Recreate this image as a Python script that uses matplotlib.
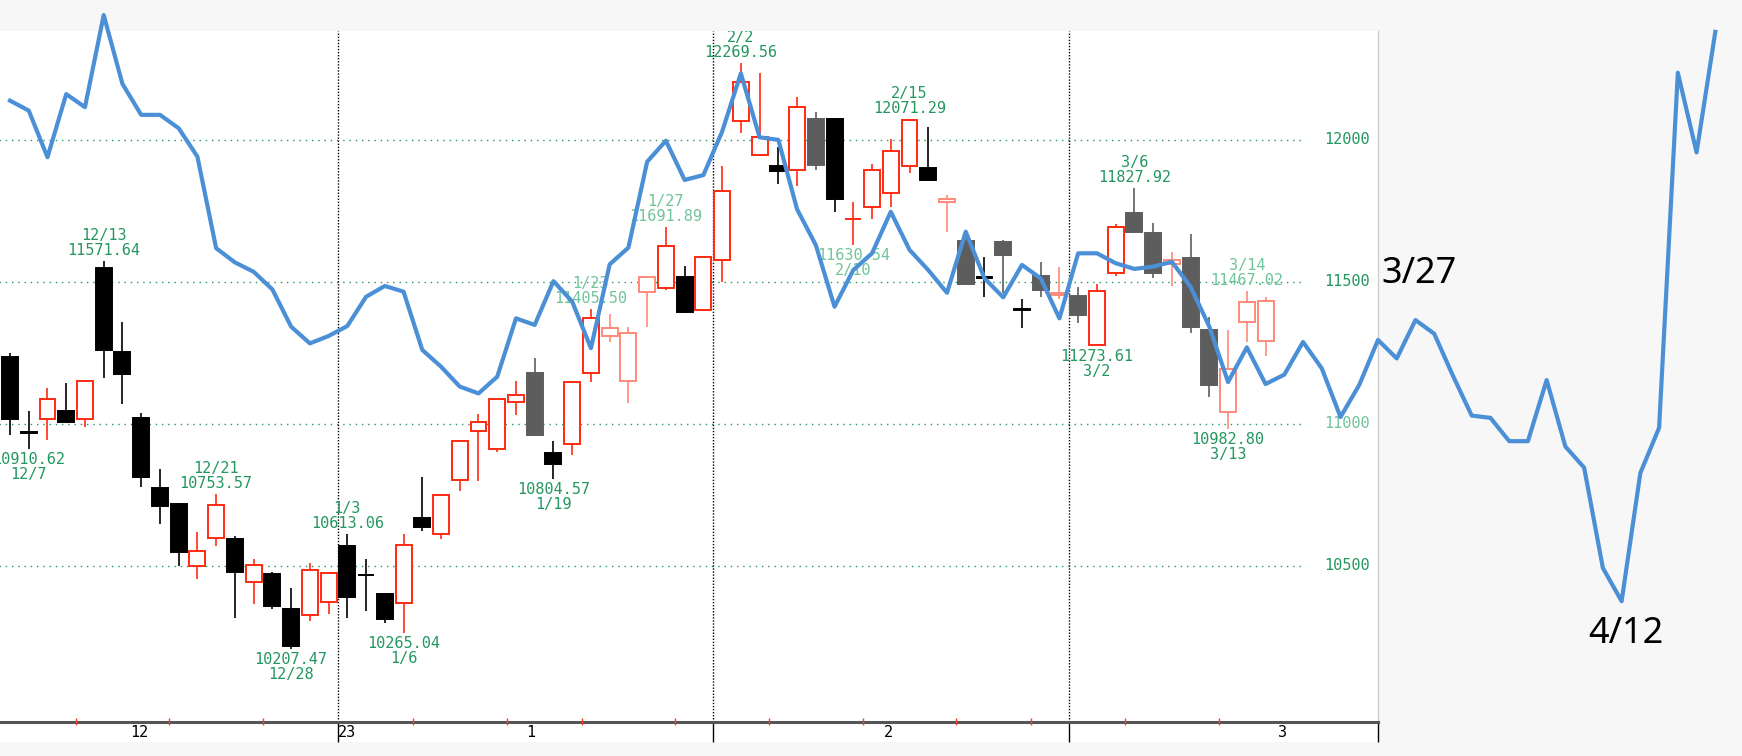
import matplotlib.pyplot as plt
from matplotlib.patches import Rectangle

# trading days shown as candles
dates = ["12/6", "12/7", "12/8", "12/9", "12/12", "12/13", "12/14", "12/15", "12/16", "12/19",
         "12/20", "12/21", "12/22", "12/23", "12/27", "12/28", "12/29", "12/30",
         "1/3", "1/4", "1/5", "1/6", "1/9", "1/10", "1/11", "1/12", "1/13", "1/17", "1/18", "1/19",
         "1/20", "1/23", "1/24", "1/25", "1/26", "1/27", "1/30", "1/31",
         "2/1", "2/2", "2/3", "2/6", "2/7", "2/8", "2/9", "2/10", "2/13", "2/14", "2/15", "2/16",
         "2/17", "2/21", "2/22", "2/23", "2/24", "2/27", "2/28",
         "3/1", "3/2", "3/3", "3/6", "3/7", "3/8", "3/9", "3/10", "3/13", "3/14", "3/15"]

opens = [11236, 10970, 11017, 11046, 11017, 11547, 11252, 11019, 10773, 10717,
         10500, 10599, 10594, 10444, 10470, 10347, 10327, 10374,
         10570, 10469, 10400, 10371, 10668, 10612, 10802, 10975, 10911, 11076, 11178, 10896,
         10929, 11178, 11309, 11151, 11463, 11477, 11515, 11400,
         11576, 12065, 11946, 11908, 11893, 12071, 12071, 11719, 11764, 11811, 11907, 11899,
         11781, 11643, 11516, 11641, 11405, 11520, 11453,
         11451, 11277, 11530, 11741, 11673, 11564, 11582, 11330, 11043, 11357, 11292]
highs = [11248, 11046, 11125, 11143, 11151, 11571.64, 11357, 11037, 10840, 10720,
         10618, 10753.57, 10605, 10523, 10477, 10421, 10509, 10477,
         10613.06, 10523, 10404, 10611, 10814, 10750, 10940, 11033, 11090, 11152, 11230, 10941,
         11148, 11405.50, 11385, 11340, 11520, 11691.89, 11556, 11590,
         11908, 12269.56, 12235, 11975, 12151, 12097, 12075, 11781, 11913, 12001, 12071.29, 12045,
         11805, 11661, 11588, 11645, 11438, 11570, 11551,
         11480, 11492, 11703, 11827.92, 11708, 11603, 11669, 11377, 11330, 11467.02, 11446]
lows = [10961, 10910.62, 10943, 11005, 10990, 11162, 11070, 10779, 10647, 10501,
        10453, 10571, 10316, 10365, 10347, 10207.47, 10307, 10330,
        10316, 10342, 10300, 10265.04, 10624, 10594, 10765, 10800, 10902, 11031, 10957, 10804.57,
        10890, 11148, 11287, 11074, 11342, 11471, 11391, 11400,
        11500, 12024, 11946, 11844, 11837, 11893, 11746, 11630.54, 11721, 11764, 11881, 11855,
        11674, 11490, 11447, 11460, 11338, 11447, 11440,
        11354, 11273.61, 11520, 11672, 11513, 11485, 11319, 11094, 10982.80, 11288, 11238]
closes = [11017, 10968, 11088, 11007, 11150, 11260, 11175, 10814, 10711, 10550,
          10552, 10714, 10480, 10503, 10360, 10219, 10486, 10474,
          10392, 10467, 10312, 10574, 10638, 10749, 10939, 11005, 11086, 11101, 10961, 10859,
          11146, 11371, 11338, 11318, 11515, 11626, 11394, 11586,
          11819, 12202, 12008, 11890, 12114, 11911, 11791, 11722, 11893, 11961, 12069, 11858,
          11790, 11492, 11514, 11594, 11401, 11471, 11459,
          11383, 11467, 11691, 11675, 11531, 11575, 11341, 11138, 11193, 11428, 11432]

gray_idx = [28, 43, 51, 53, 55, 57, 60, 61, 63, 64]
faded_idx = [32, 33, 34, 50, 56, 62, 65, 66, 67]

# high / low call-outs (candle index)
high_marks = [5, 11, 18, 31, 35, 39, 48, 60, 66]
low_marks = [1, 15, 21, 29, 45, 58, 65]
faded_marks = [31, 35, 45, 66]

# blue overlay line, one point per trading day
overlay = [12137, 12102, 11938, 12160, 12114, 12438, 12196, 12087, 12087, 12040,
           11940, 11618, 11568, 11535, 11473, 11342, 11283, 11309, 11344, 11447,
           11485, 11465, 11260, 11201, 11131, 11107, 11166, 11371, 11348, 11502,
           11430, 11266, 11561, 11620, 11922, 11996, 11858, 11875, 12028, 12233,
           12008, 11999, 11755, 11629, 11412, 11541, 11600, 11746, 11612, 11541,
           11461, 11676, 11512, 11445, 11559, 11512, 11371, 11600, 11600, 11565,
           11545, 11553, 11570, 11482, 11342, 11147, 11269, 11140, 11173, 11288,
           11195, 11024, 11137, 11295, 11230, 11365, 11317, 11169, 11029, 11021,
           10939, 10939, 11154, 10920, 10846, 10493, 10376, 10827, 10986, 12235,
           11955, 12379]
overlay_labels = {75: "3/27", 86: "4/12"}

yticks = [10500, 11000, 11500, 12000]
month_breaks = [17.5, 37.5, 56.5]
week_breaks = [3.5, 8.5, 13.5, 21.5, 26.5, 30.5, 35.5, 40.5, 45.5, 50.5, 54.5, 59.5, 64.5]
month_labels = ["12", "23", "1", "2", "3"]
month_label_pos = [6.9, 18.0, 27.8, 46.9, 67.9]

green = "#23975f"
green_light = "#6fc49a"
mono = "DejaVu Sans Mono"

fig = plt.figure(figsize=(17.42, 7.56), dpi=100, facecolor="#f7f7f7")
fig.patches.append(Rectangle((0, 14 / 756), 1378 / 1742, 20 / 756, transform=fig.transFigure,
                             facecolor="white", edgecolor="none", zorder=-1))
ax = fig.add_axes([0, 34 / 756, 1378 / 1742, 691 / 756])
ax.set_xlim(-0.534, 73.0)
ax.set_ylim(9951, 12382)

# grid
ax.hlines(yticks, -0.6, 69.1, colors=green, linestyles=(0, (1, 3.5)), linewidth=1, zorder=1)
for m in month_breaks:
    ax.axvline(m, color="black", linestyle=(0, (1, 1.2)), linewidth=1, zorder=1)
for v in yticks:
    ax.text(0.994, v, str(v), transform=ax.get_yaxis_transform(), ha="right", va="center",
            fontsize=11, family=mono, color=green_light if v == 11000 else green)

# candles
for i in range(len(dates)):
    o, h, l, c = opens[i], highs[i], lows[i], closes[i]
    if c >= o:
        edge = "#ff8a78" if i in faded_idx else "#ff2a10"
        face = "white"
    else:
        edge = "#5d5d5d" if i in gray_idx else "black"
        face = edge
    ax.vlines(i, l, h, colors=edge, linewidth=1.2, zorder=2)
    ax.bar(i, max(abs(c - o), 2), width=0.85, bottom=min(o, c), color=face,
           edgecolor=edge, linewidth=1.4, zorder=3)

for i in high_marks:
    ax.annotate(f"{dates[i]}\n{highs[i]:.2f}", xy=(i, highs[i]), xytext=(0, 3),
                textcoords="offset pixels", ha="center", va="bottom", fontsize=11,
                family=mono, linespacing=1.0, clip_on=True, zorder=4,
                color=green_light if i in faded_marks else green)
for i in low_marks:
    ax.annotate(f"{lows[i]:.2f}\n{dates[i]}", xy=(i, lows[i]), xytext=(0, -3),
                textcoords="offset pixels", ha="center", va="top", fontsize=11,
                family=mono, linespacing=1.0, clip_on=True, zorder=4,
                color=green_light if i in faded_marks else green)

# overlay line
ax.plot(range(len(overlay)), overlay, color="#4b90d6", linewidth=3, clip_on=False, zorder=5)
ax.annotate(overlay_labels[75], xy=(75, overlay[75]), xytext=(4, 46), textcoords="offset pixels",
            ha="center", va="center", fontsize=26, family="Noto Sans", color="black",
            annotation_clip=False, zorder=6)
ax.annotate(overlay_labels[86], xy=(86, overlay[86]), xytext=(4, -33), textcoords="offset pixels",
            ha="center", va="center", fontsize=26, family="Noto Sans", color="black",
            annotation_clip=False, zorder=6)

# axes frame
ax.set_facecolor("white")
for s in ["top", "left"]:
    ax.spines[s].set_visible(False)
ax.spines["right"].set_color("#cfcfcf")
ax.spines["right"].set_linewidth(1)
ax.spines["bottom"].set_color("#555555")
ax.spines["bottom"].set_linewidth(2.2)
ax.set_yticks([])
ax.set_xticks(month_breaks + [73.0])
ax.set_xticklabels([])
ax.tick_params(axis="x", which="major", length=14.4, width=1, color="black", direction="out")
ax.set_xticks(month_label_pos, minor=True)
ax.set_xticklabels(month_labels, minor=True, fontsize=11, family=mono)
ax.tick_params(axis="x", which="minor", length=0, pad=2)
ax.vlines(week_breaks, -0.005, 0.006, transform=ax.get_xaxis_transform(), colors="#ff3b2a",
          linewidth=1, clip_on=False, zorder=6)

fig.savefig("out.png", dpi=100, facecolor=fig.get_facecolor())
